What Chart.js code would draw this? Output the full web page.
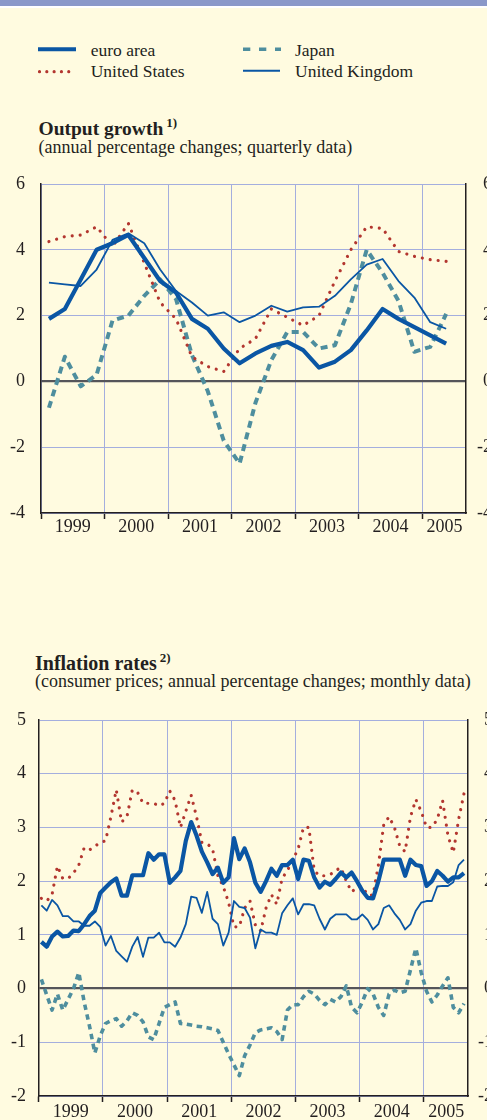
<!DOCTYPE html>
<html>
<head>
<meta charset="utf-8">
<script src="https://cdn.jsdelivr.net/npm/chart.js@4"></script>
<style>
html, body { margin: 0; padding: 0; }
body {
  width: 487px; height: 1120px; overflow: hidden; position: relative;
  background: #fffbe0; color: #231f20;
  font-family: "Liberation Serif", "Times New Roman", serif;
}
.bar { position: absolute; left: 0; top: 0; width: 487px; height: 6px; background: #8a98c9; border-bottom: 2px solid #fff; }
.txt { position: absolute; white-space: nowrap; line-height: 1; }
.leg { font-size: 17.5px; }
.title { font-size: 19.5px; font-weight: bold; }
.title sup { font-size: 13px; vertical-align: 0; position: relative; top: -8px; margin-left: 3px; }
.sub { font-size: 18px; }
canvas { position: absolute; left: 0; }
</style>
</head>
<body>
<div class="bar"></div>

<svg style="position:absolute;left:0;top:30px" width="487" height="60">
  <line x1="38" y1="19.3" x2="76" y2="19.3" stroke="#0a56a4" stroke-width="4"/>
  <line x1="39.5" y1="41.7" x2="75" y2="41.7" stroke="#b3362f" stroke-width="3.2" stroke-linecap="round" stroke-dasharray="0.01 7.3"/>
  <line x1="243" y1="19.3" x2="281" y2="19.3" stroke="#4e8e9e" stroke-width="3.4" stroke-dasharray="7.3 8.7"/>
  <line x1="243" y1="40.7" x2="280" y2="40.7" stroke="#0a56a4" stroke-width="2"/>
</svg>
<div class="txt leg" style="left:90.7px;top:41.5px">euro area</div>
<div class="txt leg" style="left:90.7px;top:62.5px">United States</div>
<div class="txt leg" style="left:295px;top:41.5px">Japan</div>
<div class="txt leg" style="left:295px;top:62.5px">United Kingdom</div>

<div class="txt title" style="left:38.5px;top:118.6px">Output growth<sup>1)</sup></div>
<div class="txt sub" style="left:38.5px;top:137.6px">(annual percentage changes; quarterly data)</div>
<canvas id="gdp" width="492" height="373" style="top:170px"></canvas>

<div class="txt title" style="left:35px;top:652.5px;font-size:20px">Inflation rates<sup>2)</sup></div>
<div class="txt sub" style="left:35px;top:671.6px">(consumer prices; annual percentage changes; monthly data)</div>
<canvas id="cpi" width="493" height="421" style="top:705px"></canvas>

<script>
const years = [1999, 2000, 2001, 2002, 2003, 2004, 2005];
const yearNames = ["1999", "2000", "2001", "2002", "2003", "2004", "2005"];
const yearLabelPos = [1999.5, 2000.5, 2001.5, 2002.5, 2003.5, 2004.5, 2005.35];
const xMax = 2005.6875;

// output growth, quarterly, 1999 Q1 - 2005 Q2
const gdpEuro = [1.9, 2.2, 3.1, 4.0, 4.2, 4.45, 3.75, 3.05, 2.7, 1.9, 1.6, 1.0, 0.55,
  0.85, 1.08, 1.2, 0.95, 0.42, 0.6, 0.95, 1.55, 2.2, 1.9, 1.65, 1.4, 1.15];
const gdpUS = [4.25, 4.4, 4.45, 4.7, 4.1, 4.8, 3.6, 2.4, 1.9, 0.75, 0.45, 0.3, 1.0,
  1.3, 2.2, 1.95, 1.7, 2.0, 3.05, 4.0, 4.7, 4.65, 3.95, 3.8, 3.7, 3.65];
const gdpJapan = [-0.8, 0.75, -0.15, 0.2, 1.85, 2.0, 2.6, 3.1, 2.5, 0.8, -0.3, -1.8, -2.5,
  -0.65, 0.65, 1.5, 1.5, 1.0, 1.1, 2.35, 4.0, 3.3, 2.45, 0.9, 1.05, 2.05];
const gdpUK = [3.0, 2.95, 2.9, 3.4, 4.3, 4.5, 4.2, 3.4, 2.75, 2.4, 2.0, 2.1, 1.8,
  2.0, 2.3, 2.12, 2.25, 2.27, 2.6, 3.1, 3.55, 3.72, 3.05, 2.55, 1.8, 1.6];

// consumer prices, monthly, Jan 1999 - Aug 2005
const cpiEuro = [0.87, 0.78, 0.97, 1.06, 0.97, 0.98, 1.08, 1.07, 1.2, 1.35, 1.45, 1.78,
  1.88, 1.98, 2.05, 1.73, 1.73, 2.11, 2.11, 2.11, 2.52, 2.4, 2.5, 2.5,
  1.97, 2.07, 2.19, 2.75, 3.1, 2.85, 2.55, 2.35, 2.13, 2.25, 1.97, 2.07,
  2.8, 2.41, 2.61, 2.35, 1.97, 1.8, 2.0, 2.23, 2.1, 2.3, 2.3, 2.4,
  2.04, 2.4, 2.38, 2.07, 1.88, 1.99, 1.93, 2.04, 2.16, 2.07, 2.16, 2.0,
  1.82, 1.69, 1.68, 2.0, 2.4, 2.4, 2.4, 2.4, 2.1, 2.4, 2.3, 2.28,
  1.91, 2.0, 2.19, 2.1, 1.99, 2.07, 2.07, 2.15];
const cpiUS = [1.68, 1.63, 1.75, 2.28, 2.05, 2.05, 2.15, 2.3, 2.62, 2.58, 2.65, 2.72,
  2.75, 3.2, 3.7, 3.1, 3.2, 3.7, 3.65, 3.45, 3.45, 3.45, 3.4, 3.45,
  3.68, 3.5, 3.0, 3.3, 3.6, 3.2, 2.72, 2.7, 2.6, 2.1, 1.9, 1.6,
  1.15, 1.15, 1.5, 1.63, 1.18, 1.07, 1.5, 1.75, 1.57, 2.05, 2.2, 2.4,
  2.6, 3.0, 3.0, 2.2, 2.1, 2.1, 2.12, 2.2, 2.25, 2.0, 1.8, 1.88,
  1.9, 1.74, 1.74, 2.3, 3.05, 3.2, 3.0, 2.65, 2.55, 3.2, 3.52, 3.3,
  3.0, 3.0, 3.15, 3.5, 2.85, 2.53, 3.15, 3.63];
const cpiJapan = [0.17, -0.12, -0.4, -0.1, -0.4, -0.2, 0.0, 0.3, -0.25, -0.7, -1.2, -0.88,
  -0.65, -0.6, -0.56, -0.7, -0.6, -0.45, -0.5, -0.62, -0.9, -0.95, -0.65, -0.35,
  -0.3, -0.25, -0.65, -0.66, -0.68, -0.7, -0.71, -0.73, -0.75, -0.78, -1.0, -1.22,
  -1.42, -1.62, -1.25, -1.05, -0.82, -0.77, -0.75, -0.73, -0.8, -0.95, -0.4, -0.3,
  -0.3, -0.15, -0.05, -0.1, -0.22, -0.3, -0.2, -0.25, -0.15, 0.05, -0.35, -0.45,
  -0.25, 0.0, -0.1, -0.35, -0.5, -0.1, -0.03, -0.08, -0.05, 0.35, 0.75, 0.3,
  -0.05, -0.25, -0.12, 0.05, 0.2, -0.35, -0.45, -0.28];
const cpiUK = [1.55, 1.45, 1.65, 1.55, 1.35, 1.35, 1.25, 1.25, 1.17, 1.17, 1.25, 1.15,
  0.8, 0.98, 0.7, 0.6, 0.5, 0.78, 0.96, 0.59, 0.95, 0.95, 1.04, 0.86,
  0.86, 0.78, 0.95, 1.2, 1.71, 1.69, 1.41, 1.8, 1.3, 1.2, 0.8, 1.04,
  1.63, 1.52, 1.5, 1.32, 0.75, 1.1, 1.04, 1.04, 1.0, 1.4, 1.55, 1.68,
  1.38, 1.57, 1.57, 1.55, 1.3, 1.1, 1.3, 1.38, 1.38, 1.38, 1.29, 1.29,
  1.38, 1.28, 1.1, 1.2, 1.5, 1.55, 1.4, 1.28, 1.1, 1.2, 1.45, 1.6,
  1.63, 1.63, 1.9, 1.91, 1.91, 1.98, 2.3, 2.4];

const blue = "#0a56a4";
const red = "#b3362f";
const teal = "#4e8e9e";
const gridColor = "#a4aede";
const ink = "#231f20";
const font = { family: "'Liberation Serif', 'Times New Roman', serif", size: 18 };

// spread values over the year axis, midpoint of each period
function toPoints(values, perYear) {
  return values.map((v, i) => ({ x: 1999 + (i + 0.5) / perYear, y: v }));
}

// fixed axis size, and no extra room reserved for overhanging labels
function fixSize(prop, size) {
  return s => {
    s[prop] = size;
    s.paddingTop = 0; s.paddingBottom = 0; s.paddingLeft = 0; s.paddingRight = 0;
  };
}

function makeChart(id, o) {
  const ctx = document.getElementById(id).getContext("2d");
  const line = { fill: false, pointRadius: 0, tension: 0, borderJoinStyle: "round" };
  return new Chart(ctx, {
    type: "line",
    data: {
      datasets: [
        { ...line, label: "euro area", data: toPoints(o.euro, o.perYear), borderColor: blue, borderWidth: 4.2 },
        { ...line, label: "United Kingdom", data: toPoints(o.uk, o.perYear), borderColor: blue, borderWidth: 1.8 },
        { ...line, label: "United States", data: toPoints(o.us, o.perYear), borderColor: red, borderWidth: 3.2,
          borderDash: [0.01, 8], borderCapStyle: "round" },
        { ...line, label: "Japan", data: toPoints(o.japan, o.perYear), borderColor: teal, borderWidth: o.jpWidth,
          borderDash: o.jpDash },
      ],
    },
    options: {
      responsive: false,
      animation: false,
      events: [],
      layout: { padding: { top: o.padTop, left: 0, right: 0, bottom: 0 } },
      plugins: { legend: { display: false }, tooltip: { enabled: false } },
      scales: {
        x: {
          type: "linear", position: "bottom", min: 1999, max: xMax,
          afterBuildTicks: s => { s.ticks = years.map(v => ({ value: v })); },
          ticks: { display: false },
          grid: { color: gridColor, lineWidth: 1, drawTicks: true, tickLength: 6, tickColor: ink, tickWidth: 1.5 },
          border: { display: true, color: ink, width: 1.5 },
          afterFit: fixSize("height", 0),
        },
        xl: {
          type: "linear", position: "bottom", min: 1999, max: xMax,
          afterBuildTicks: s => { s.ticks = yearLabelPos.map(v => ({ value: v })); },
          ticks: { autoSkip: false, maxRotation: 0, padding: o.labelPad, color: ink, font: font,
            callback: (v, i) => yearNames[i] },
          grid: { display: false, drawTicks: false },
          border: { display: false },
          afterFit: fixSize("height", 30),
        },
        y: {
          position: "left", min: o.yMin, max: o.yMax,
          ticks: { stepSize: o.step, padding: o.leftPad, color: ink, font: font },
          grid: {
            drawTicks: false,
            color: c => (c.tick && c.tick.value === 0 ? "#55555a" : gridColor),
            lineWidth: c => (c.tick && c.tick.value === 0 ? 2.2 : 1),
          },
          border: { display: true, color: ink, width: 1.5 },
          afterFit: fixSize("width", o.leftWidth),
        },
        y2: {
          position: "right", min: o.yMin, max: o.yMax,
          ticks: { stepSize: o.step, crossAlign: "far", color: ink, font: font },
          grid: { display: false, drawTicks: false },
          border: { display: true, color: ink, width: 1.5 },
          afterFit: fixSize("width", o.rightWidth),
        },
      },
    },
  });
}

makeChart("gdp", {
  euro: gdpEuro, uk: gdpUK, us: gdpUS, japan: gdpJapan, perYear: 4,
  yMin: -4, yMax: 6, step: 2, padTop: 14, leftWidth: 41, leftPad: 16, rightWidth: 26,
  labelPad: 3, jpWidth: 4, jpDash: [7, 5],
});

makeChart("cpi", {
  euro: cpiEuro, uk: cpiUK, us: cpiUS, japan: cpiJapan, perYear: 12,
  yMin: -2, yMax: 5, step: 1, padTop: 15, leftWidth: 38.7, leftPad: 12.7, rightWidth: 25,
  labelPad: 5, jpWidth: 3.6, jpDash: [5.5, 4.5],
});
</script>
</body>
</html>
